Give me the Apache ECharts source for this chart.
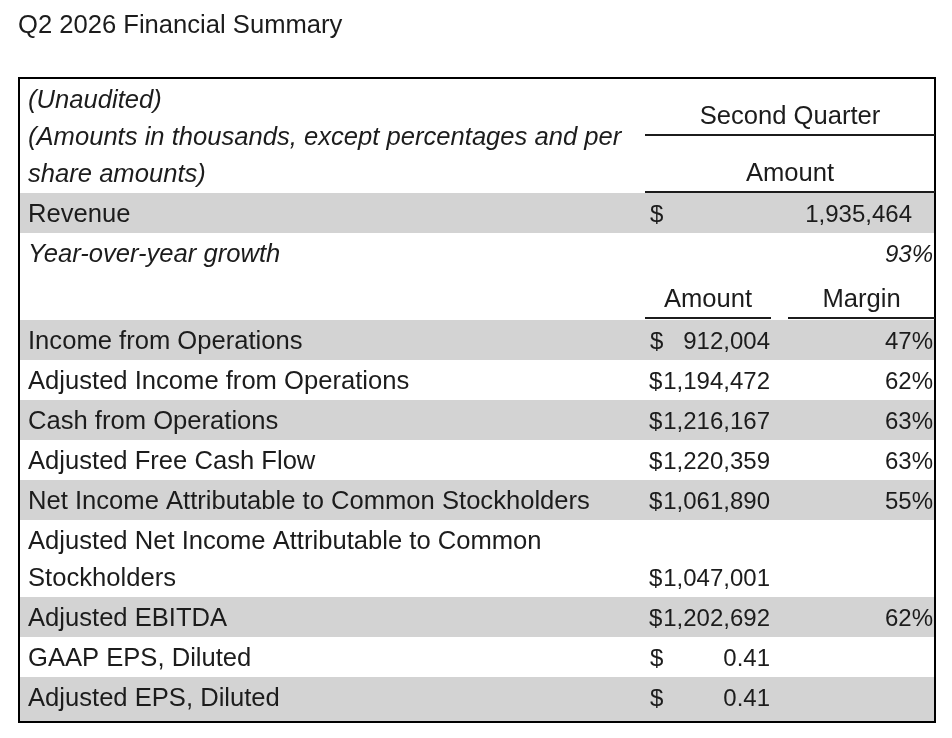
<!DOCTYPE html>
<html>
<head>
<meta charset="utf-8">
<title>Q2 2026 Financial Summary</title>
<script src="https://cdn.jsdelivr.net/npm/echarts@6/dist/echarts.min.js"></script>
<style>
	html, body { margin: 0; padding: 0; background: #fff; }
	#chart { width: 952px; height: 738px; }
</style>
</head>
<body>
<div id="chart"></div>
<script>
// table contents
var tableTitle = 'Q2 2026 Financial Summary';
var headerNotes = ['(Unaudited)', '(Amounts in thousands, except percentages and per', 'share amounts)'];
var periodLabel = 'Second Quarter';
var periodColumn = 'Amount';
var columnLabels = ['Amount', 'Margin'];
var revenueLabel = 'Revenue';
var revenueAmount = 1935464;
var growthLabel = 'Year-over-year growth';
var growthPct = 93;
var metricLabels = [
	'Income from Operations',
	'Adjusted Income from Operations',
	'Cash from Operations',
	'Adjusted Free Cash Flow',
	'Net Income Attributable to Common Stockholders',
	'Adjusted Net Income Attributable to Common\nStockholders',
	'Adjusted EBITDA',
	'GAAP EPS, Diluted',
	'Adjusted EPS, Diluted'
];
var metricAmounts = [912004, 1194472, 1216167, 1220359, 1061890, 1047001, 1202692, 0.41, 0.41];
var metricMargins = [47, 62, 63, 63, 55, null, 62, null, null];

// look
var FONT = '"Liberation Sans", Arial, sans-serif';
var FS = 25.6;      // labels
var FS_NUM = 24;    // figures
var INK = '#1c1c1c';
var SHADE = '#d3d3d3';
var LINE = 37, PAD = 3, DY = 2;
var W = 916, H = 644;
// column anchors (table units, from left border)
var X_LABEL = 9, X_CUR = 631, X_AMT = 751, X_MARGIN = 914, X_REV = 893;
var X_COL1 = [626, 752], X_COL2 = [769, 916];

var measureCtx = document.createElement('canvas').getContext('2d');
measureCtx.font = FS_NUM + 'px ' + FONT;
function textWidth(s) { return measureCtx.measureText(s).width; }

function fmtAmount(v) {
	return v < 10 ? v.toFixed(2) : v.toLocaleString('en-US');
}

// build row list, heights from number of text lines
var rows = [];
rows.push({ kind: 'notes', lines: headerNotes.length });
rows.push({ kind: 'revenue', lines: 1, shade: true });
rows.push({ kind: 'growth', lines: 1 });
rows.push({ kind: 'columns', lines: 1, extra: 7 });
for (var i = 0; i < metricLabels.length; i++) {
	rows.push({ kind: 'metric', idx: i, lines: metricLabels[i].split('\n').length, shade: i % 2 === 0 });
}
var yPos = 1;
rows.forEach(function (r) {
	r.top = yPos;
	r.h = r.lines * LINE + PAD + (r.extra || 0);
	yPos += r.h;
});
// last row runs down to the frame
rows[rows.length - 1].fill = H - 1 - rows[rows.length - 1].top;

function renderRow(params, api) {
	var r = rows[api.value(0)];
	var kids = [];

	function txt(s, x, y, align, italic, size) {
		var p = api.coord([x, y + DY]);
		return {
			type: 'text',
			style: {
				text: s, x: p[0], y: p[1],
				align: align, verticalAlign: 'middle',
				fontSize: size || FS, fontFamily: FONT,
				fontStyle: italic ? 'italic' : 'normal',
				lineHeight: LINE, fill: INK
			}
		};
	}
	function rule(x1, x2, y) {
		var a = api.coord([x1, y]), b = api.coord([x2, y]);
		return { type: 'line', shape: { x1: a[0], y1: a[1], x2: b[0], y2: b[1] }, style: { stroke: INK, lineWidth: 2 } };
	}
	function money(v, right, y) {
		var s = fmtAmount(v);
		// keep the $ clear of wide figures
		var dollarX = Math.min(X_CUR, right - textWidth(s) - textWidth('$') - 1);
		return [txt('$', dollarX, y, 'left', false, FS_NUM), txt(s, right, y, 'right', false, FS_NUM)];
	}

	if (r.shade) {
		var p0 = api.coord([0, r.top]), p1 = api.coord([W, r.top + (r.fill || r.h)]);
		kids.push({ type: 'rect', shape: { x: p0[0] + 1, y: p0[1], width: p1[0] - p0[0] - 2, height: p1[1] - p0[1] }, style: { fill: SHADE } });
	}
	var mid = r.top + r.h / 2;
	var lastLine = r.top + PAD / 2 + LINE * (r.lines - 0.5);
	var colMid = (X_COL1[0] + X_COL2[1]) / 2;

	if (r.kind === 'notes') {
		headerNotes.forEach(function (s, k) {
			kids.push(txt(s, X_LABEL, r.top + PAD / 2 + LINE * (k + 0.5), 'left', true));
		});
		kids.push(txt(periodLabel, colMid, r.top + 36, 'center'));
		kids.push(rule(X_COL1[0], X_COL2[1], r.top + 56));
		kids.push(txt(periodColumn, colMid, r.top + 93, 'center'));
		kids.push(rule(X_COL1[0], X_COL2[1], r.top + 113));
	} else if (r.kind === 'revenue') {
		kids.push(txt(revenueLabel, X_LABEL, mid, 'left'));
		kids = kids.concat(money(revenueAmount, X_REV, mid));
	} else if (r.kind === 'growth') {
		kids.push(txt(growthLabel, X_LABEL, mid, 'left', true));
		kids.push(txt(growthPct + '%', X_MARGIN, mid, 'right', true, FS_NUM));
	} else if (r.kind === 'columns') {
		kids.push(txt(columnLabels[0], (X_COL1[0] + X_COL1[1]) / 2, r.top + 25, 'center'));
		kids.push(txt(columnLabels[1], (X_COL2[0] + X_COL2[1]) / 2, r.top + 25, 'center'));
		kids.push(rule(X_COL1[0], X_COL1[1], r.top + 45));
		kids.push(rule(X_COL2[0], X_COL2[1], r.top + 45));
	} else {
		kids.push(txt(metricLabels[r.idx], X_LABEL, mid, 'left'));
		kids = kids.concat(money(metricAmounts[r.idx], X_AMT, lastLine));
		if (metricMargins[r.idx] != null) {
			kids.push(txt(metricMargins[r.idx] + '%', X_MARGIN, lastLine, 'right', false, FS_NUM));
		}
	}
	return { type: 'group', children: kids };
}

var chart = echarts.init(document.getElementById('chart'));
chart.setOption({
	animation: false,
	title: {
		text: tableTitle,
		left: 13,
		top: 8,
		textStyle: { fontFamily: FONT, fontSize: FS, fontWeight: 'normal', color: INK }
	},
	grid: {
		left: 19, top: 78, width: W, height: H,
		show: true, borderColor: '#000', borderWidth: 2, backgroundColor: '#fff'
	},
	xAxis: { type: 'value', min: 0, max: W, show: false },
	yAxis: { type: 'value', min: 0, max: H, inverse: true, show: false },
	series: [{
		type: 'custom',
		renderItem: renderRow,
		data: rows.map(function (r, i) { return [i]; })
	}]
});
</script>
</body>
</html>
